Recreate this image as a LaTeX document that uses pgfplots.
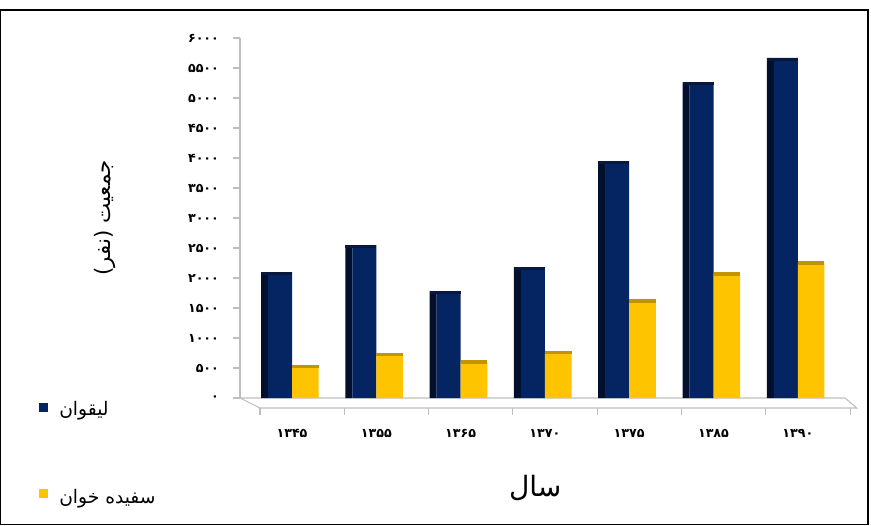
\documentclass[border=0pt]{standalone}
\usepackage{pgfplots}
\pgfplotsset{compat=1.18}
\usepackage{pgfplotstable}
\usepackage{fontspec}
\setmainfont{DejaVu Sans}
\newfontfamily\arabicfont[Script=Arabic]{DejaVu Sans}
\TeXXeTstate=1

\definecolor{navy}{RGB}{5,36,98}
\definecolor{navyside}{RGB}{2,16,45}
\definecolor{navytop}{RGB}{8,24,62}
\definecolor{gold}{RGB}{255,196,0}
\definecolor{goldtop}{RGB}{196,148,0}
\definecolor{floorgray}{RGB}{190,190,190}

% population by census year (x = category index)
\pgfplotstableread{
x liqvan sefideh
0 2100 530
1 2550 730
2 1780 600
3 2180 760
4 3950 1620
5 5260 2070
6 5670 2250
}\population

\begin{document}
\begin{tikzpicture}
\path[use as bounding box] (0,0) rectangle (653.25pt,393.75pt);
\draw[black, line width=0.8pt] (0.4pt,0.4pt) rectangle (651pt,386.25pt);

\begin{axis}[
    at={(180pt,95.25pt)}, anchor=south west,
    scale only axis,
    width=453.75pt, height=270pt,
    xmin=-0.617, xmax=6.56,
    ymin=0, ymax=6000,
    axis lines*=left,
    x axis line style={draw=none},
    y axis line style={draw=floorgray, line width=0.8pt},
    ytick={0,500,...,6000},
    yticklabels={۰,۵۰۰,۱۰۰۰,۱۵۰۰,۲۰۰۰,۲۵۰۰,۳۰۰۰,۳۵۰۰,۴۰۰۰,۴۵۰۰,۵۰۰۰,۵۵۰۰,۶۰۰۰},
    xtick={0,...,6},
    xticklabels={۱۳۴۵,۱۳۵۵,۱۳۶۵,۱۳۷۰,۱۳۷۵,۱۳۸۵,۱۳۹۰},
    tick align=outside,
    major tick length=5.25pt,
    ytick style={draw=floorgray, line width=0.8pt},
    xtick style={draw=none},
    xticklabel shift=15pt,
    yticklabel shift=7pt,
    ticklabel style={font=\arabicfont\bfseries\fontsize{9.5}{10}\selectfont},
    scaled y ticks=false,
    ylabel={\beginR جمعیت (نفر)\endR},
    ylabel style={font=\arabicfont\fontsize{16}{18}\selectfont,
        at={(axis description cs:-0.223,0.5)}, anchor=center},
    xlabel={سال},
    xlabel style={font=\arabicfont\fontsize{21}{24}\selectfont,
        at={(axis description cs:0.488,-0.25)}, anchor=center},
    clip=false,
]
% floor of the 3D chart
\draw[floorgray, line width=0.8pt] (axis cs:-0.617,0) -- (axis cs:6.56,0)
    -- (axis cs:6.70,-167) -- (axis cs:-0.38,-167) -- cycle;
\pgfplotsinvokeforeach{-0.38,0.62,1.62,2.62,3.62,4.62,5.62,6.62}{
    \draw[floorgray, line width=0.8pt] (axis cs:#1,-167) -- (axis cs:#1,-283);
}

\addplot[ybar, bar width=5.25pt, bar shift=-20.6pt, fill=navyside, draw=none]
    table[x=x, y=liqvan] {\population};
\addplot[ybar, bar width=18pt, bar shift=-9pt, fill=navy, draw=none,
    nodes near coords={},
    every node near coord/.append style={fill=navytop, inner sep=0pt,
        minimum width=23.25pt, minimum height=2.5pt, anchor=south,
        yshift=-2.5pt, xshift=-11.6pt}]
    table[x=x, y=liqvan] {\population};
\addplot[ybar, bar width=20pt, bar shift=10pt, fill=gold, draw=none,
    nodes near coords={},
    every node near coord/.append style={fill=goldtop, inner sep=0pt,
        minimum width=20pt, minimum height=2.5pt, anchor=south,
        yshift=-1.5pt, xshift=10pt}]
    table[x=x, y=sefideh] {\population};
\end{axis}

% legend
\fill[navy] (28.9pt,85.1pt) rectangle +(6.75pt,6.75pt);
\node[anchor=west, font=\arabicfont\fontsize{14}{16}\selectfont, inner sep=0pt]
    at (44.25pt,85.5pt) {لیقوان};
\fill[gold] (28.9pt,20.6pt) rectangle +(6.75pt,6.75pt);
\node[anchor=west, font=\arabicfont\fontsize{14}{16}\selectfont, inner sep=0pt]
    at (44.25pt,20pt) {\beginR سفیده خوان\endR};
\end{tikzpicture}
\end{document}
